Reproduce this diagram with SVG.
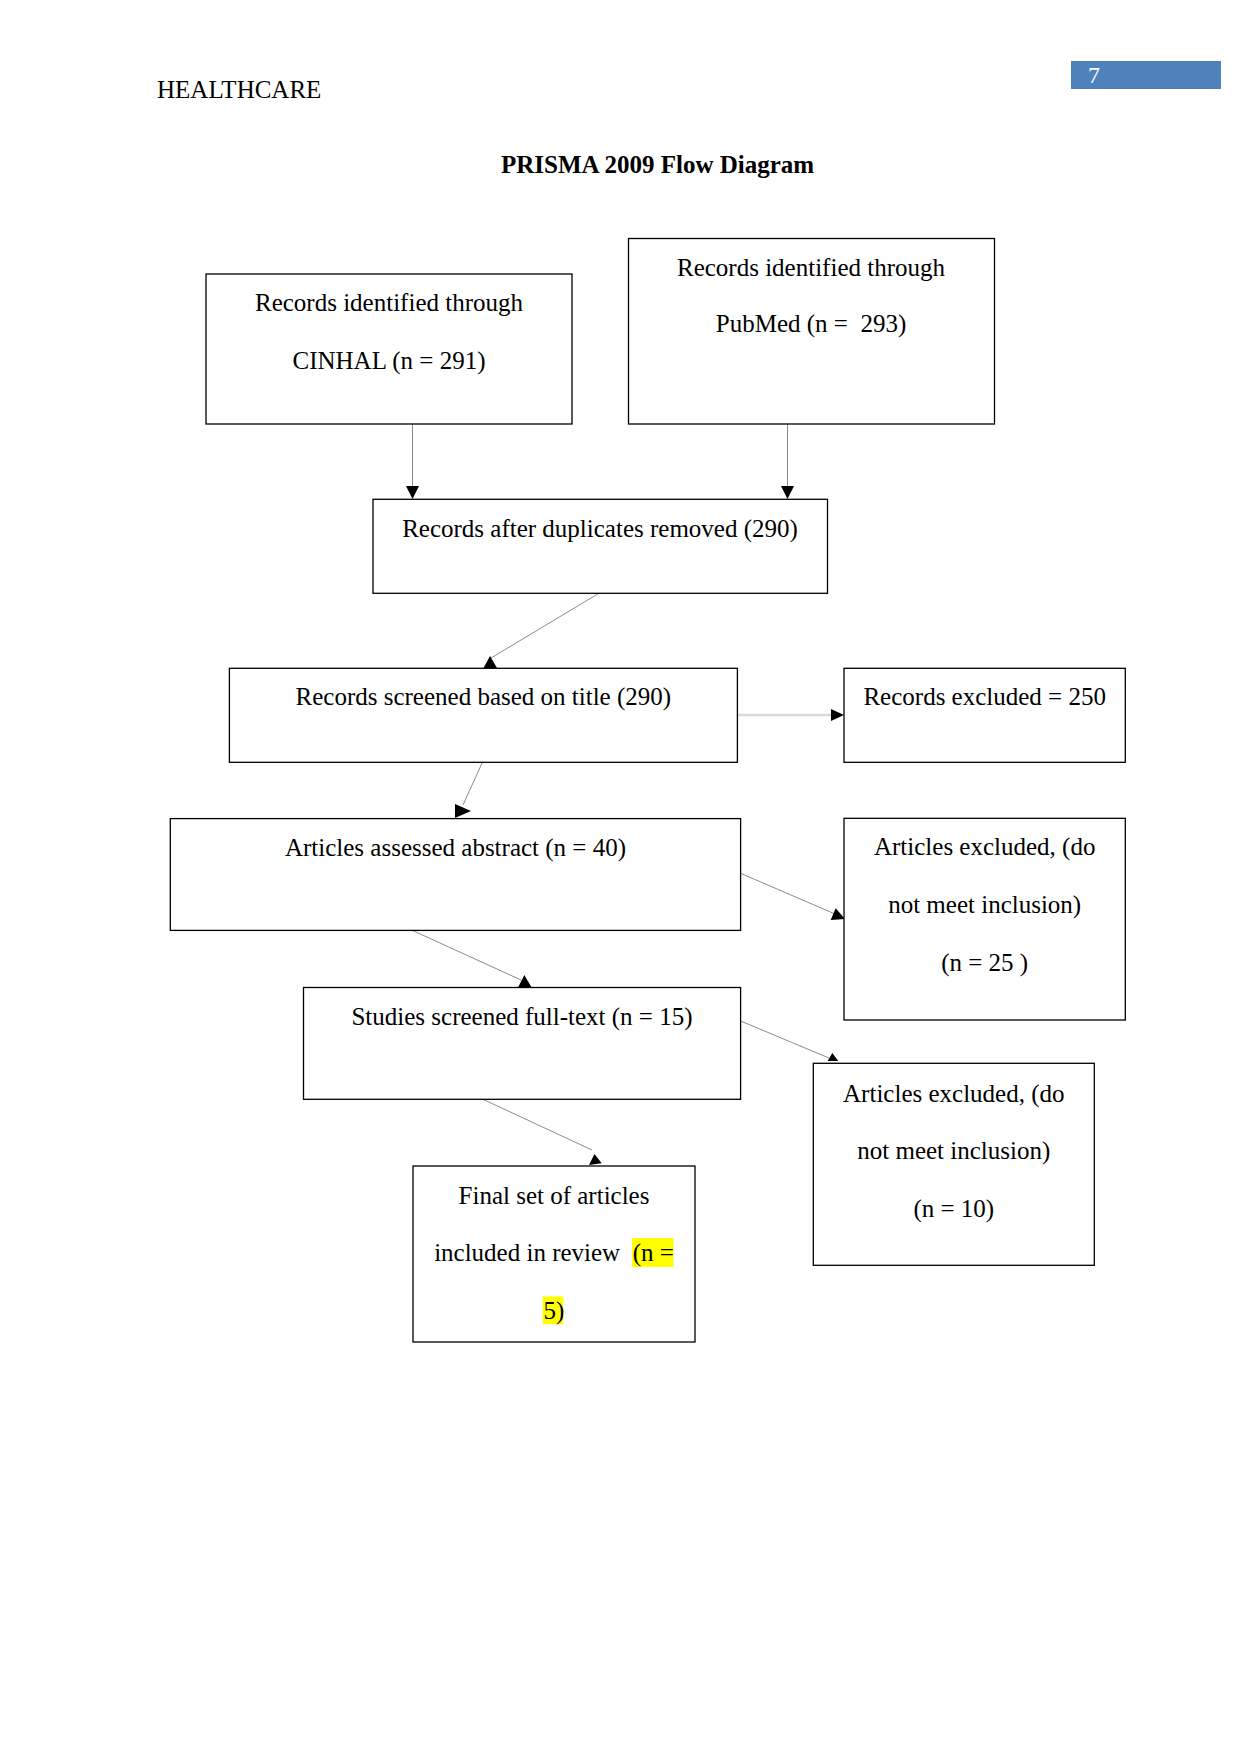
<svg xmlns="http://www.w3.org/2000/svg" width="1241" height="1754" viewBox="0 0 1241 1754">
<style>
text{font-family:"Liberation Serif","Times New Roman",serif;font-size:25px;fill:#000}
.c{text-anchor:middle}
.box{fill:#fff;stroke:#000;stroke-width:1.3}
.ln{stroke:#8c8c8c;stroke-width:1;fill:none}
.lnh{stroke:#d9d9d9;stroke-width:2.5;fill:none}
.ah{fill:#000}
.hl{fill:#ffff00}
</style>
<rect x="0" y="0" width="1241" height="1754" fill="#fff"/>
<g id="header">
<text x="157" y="98">HEALTHCARE</text>
<rect x="1071" y="61" width="150" height="28" fill="#4f81bd"/>
<text x="1088" y="83" style="fill:#fff;font-size:24px">7</text>
<text x="657.6" y="173" class="c" style="font-weight:bold">PRISMA 2009 Flow Diagram</text>
</g>
<g id="connectors">
<line class="ln" x1="412.5" y1="424" x2="412.5" y2="487"/>
<polygon class="ah" points="406,486 419,486 412.5,499"/>
<line class="ln" x1="787.5" y1="424" x2="787.5" y2="487"/>
<polygon class="ah" points="781,486 794,486 787.5,499"/>
<line class="ln" x1="598.5" y1="593.5" x2="491" y2="658"/>
<polygon class="ah" points="490,656 483.5,668 497,668"/>
<line class="lnh" x1="738" y1="715" x2="832" y2="715"/>
<polygon class="ah" points="831,709 844,715 831,721"/>
<line class="ln" x1="482.3" y1="762.5" x2="463" y2="805"/>
<polygon class="ah" points="455,804 455,818 471,811"/>
<line class="ln" x1="412.6" y1="930.5" x2="521" y2="980"/>
<polygon class="ah" points="524.3,975 518,987.5 531.7,987.5"/>
<line class="ln" x1="740.6" y1="873.3" x2="835" y2="914"/>
<polygon class="ah" points="835.7,908.3 830.7,920 845,919"/>
<line class="ln" x1="740.6" y1="1021" x2="829" y2="1058"/>
<polygon class="ah" points="832.3,1053 827.7,1061 838.3,1061"/>
<line class="ln" x1="483.4" y1="1099.5" x2="592" y2="1150"/>
<polygon class="ah" points="594.5,1154 589,1165 601.7,1163.3"/>
</g>
<g id="n-cinhal">
<rect class="box" x="206" y="274" width="366" height="150"/>
<text class="c" x="389" y="311">Records identified through</text>
<text class="c" x="389" y="368.5">CINHAL (n = 291)</text>
</g>
<g id="n-pubmed">
<rect class="box" x="628.5" y="238.5" width="366" height="185.5"/>
<text class="c" x="811" y="276">Records identified through</text>
<text class="c" x="811" y="332" xml:space="preserve">PubMed (n =  293)</text>
</g>
<g id="n-duplicates">
<rect class="box" x="373" y="499.3" width="454.5" height="94"/>
<text class="c" x="600" y="537">Records after duplicates removed (290)</text>
</g>
<g id="n-title">
<rect class="box" x="229.4" y="668.3" width="508" height="94"/>
<text class="c" x="483.3" y="705">Records screened based on title (290)</text>
</g>
<g id="n-excluded250">
<rect class="box" x="844" y="668.3" width="281.3" height="94"/>
<text class="c" x="984.7" y="705">Records excluded = 250</text>
</g>
<g id="n-abstract">
<rect class="box" x="170.3" y="818.6" width="570.3" height="111.8"/>
<text class="c" x="455.5" y="856">Articles assessed abstract (n = 40)</text>
</g>
<g id="n-excluded25">
<rect class="box" x="844" y="818.3" width="281.3" height="201.7"/>
<text class="c" x="984.7" y="855">Articles excluded, (do</text>
<text class="c" x="984.7" y="913">not meet inclusion)</text>
<text class="c" x="984.7" y="971" xml:space="preserve">(n = 25 )</text>
</g>
<g id="n-fulltext">
<rect class="box" x="303.5" y="987.5" width="437.1" height="111.8"/>
<text class="c" x="522" y="1025">Studies screened full-text (n = 15)</text>
</g>
<g id="n-excluded10">
<rect class="box" x="813.3" y="1063.3" width="281" height="202"/>
<text class="c" x="953.8" y="1101.7">Articles excluded, (do</text>
<text class="c" x="953.8" y="1159">not meet inclusion)</text>
<text class="c" x="953.8" y="1216.7">(n = 10)</text>
</g>
<g id="n-final">
<rect class="box" x="413" y="1166" width="282" height="176"/>
<rect class="hl" x="632" y="1238" width="41.5" height="29"/>
<rect class="hl" x="542.7" y="1296.4" width="20.5" height="27.8"/>
<text class="c" x="554" y="1203.6">Final set of articles</text>
<text class="c" x="554" y="1260.7" xml:space="preserve">included in review  (n =</text>
<text class="c" x="554" y="1318.6">5)</text>
</g>
</svg>
